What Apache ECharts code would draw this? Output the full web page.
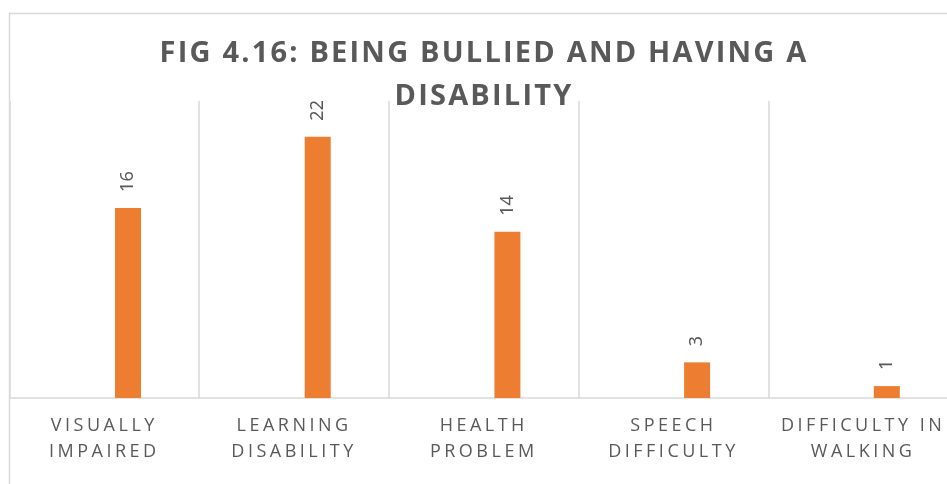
<!DOCTYPE html>
<html>
<head>
<meta charset="utf-8">
<script src="https://cdn.jsdelivr.net/npm/echarts@6/dist/echarts.min.js"></script>
<style>
  html, body { margin: 0; padding: 0; background: #fff; overflow: hidden; }
  /* the chart frame runs slightly past the right edge of the page */
  #chart { width: 962px; height: 484px; }
</style>
</head>
<body>
<div id="chart"></div>
<script>
// Categories, values and the title
const categories = [
  'VISUALLY\nIMPAIRED',
  'LEARNING\nDISABILITY',
  'HEALTH\nPROBLEM',
  'SPEECH\nDIFFICULTY',
  'DIFFICULTY IN\nWALKING'
];
const bulliedValues = [16, 22, 14, 3, 1];
const titleText = 'FIG 4.16: BEING BULLIED AND HAVING A\nDISABILITY';

// Tracked (letter-spaced) capitals for the title and the category names
const spacingFor = (font) => {
  if (/bold/.test(font)) return '2.2px';
  if (/Open Sans/.test(font)) return '3.5px';
  return '0px';
};
['fillText', 'strokeText', 'measureText'].forEach((fn) => {
  const orig = CanvasRenderingContext2D.prototype[fn];
  CanvasRenderingContext2D.prototype[fn] = function () {
    if ('letterSpacing' in this) this.letterSpacing = spacingFor(this.font);
    return orig.apply(this, arguments);
  };
});

const textGray = '#595959';
const lineGray = '#d9d9d9';

const chart = echarts.init(document.getElementById('chart'), null, { renderer: 'canvas' });
chart.setOption({
  backgroundColor: '#fff',
  animation: false,
  title: {
    text: titleText,
    left: 484,
    top: 32,
    textAlign: 'center',
    padding: 0,
    textStyle: {
      fontFamily: 'Open Sans',
      fontWeight: 'bold',
      fontSize: 29,
      lineHeight: 43,
      color: textGray
    }
  },
  graphic: [{
    type: 'rect',
    shape: { x: 9.5, y: 13.5, width: 960, height: 500 },
    style: { fill: 'none', stroke: lineGray, lineWidth: 1.5 },
    silent: true,
    z: -1
  }],
  grid: { left: 9.5, top: 101, width: 948.5, height: 297 },
  xAxis: {
    type: 'category',
    data: categories,
    boundaryGap: true,
    axisLine: { lineStyle: { color: lineGray, width: 1.5 } },
    axisTick: { show: false },
    splitLine: { show: true, interval: 0, lineStyle: { color: lineGray, width: 1.5 } },
    axisLabel: {
      interval: 0,
      margin: 15,
      fontFamily: 'Open Sans',
      fontSize: 18,
      lineHeight: 26,
      color: textGray
    }
  },
  yAxis: {
    type: 'value',
    min: 0,
    max: 25,
    show: false,
    splitLine: { show: false }
  },
  series: [
    // empty leading series keeps each bar in the right-hand slot of its category
    { type: 'bar', name: '', data: [], barWidth: 26, barGap: '82%' },
    {
      type: 'bar',
      name: 'Bullied',
      data: bulliedValues,
      barWidth: 26,
      barGap: '82%',
      itemStyle: { color: '#ED7D31' },
      label: {
        show: true,
        position: 'top',
        rotate: 90,
        align: 'left',
        verticalAlign: 'middle',
        distance: 16,
        fontFamily: 'Noto Sans',
        fontSize: 18,
        color: textGray
      }
    }
  ]
});
</script>
</body>
</html>
